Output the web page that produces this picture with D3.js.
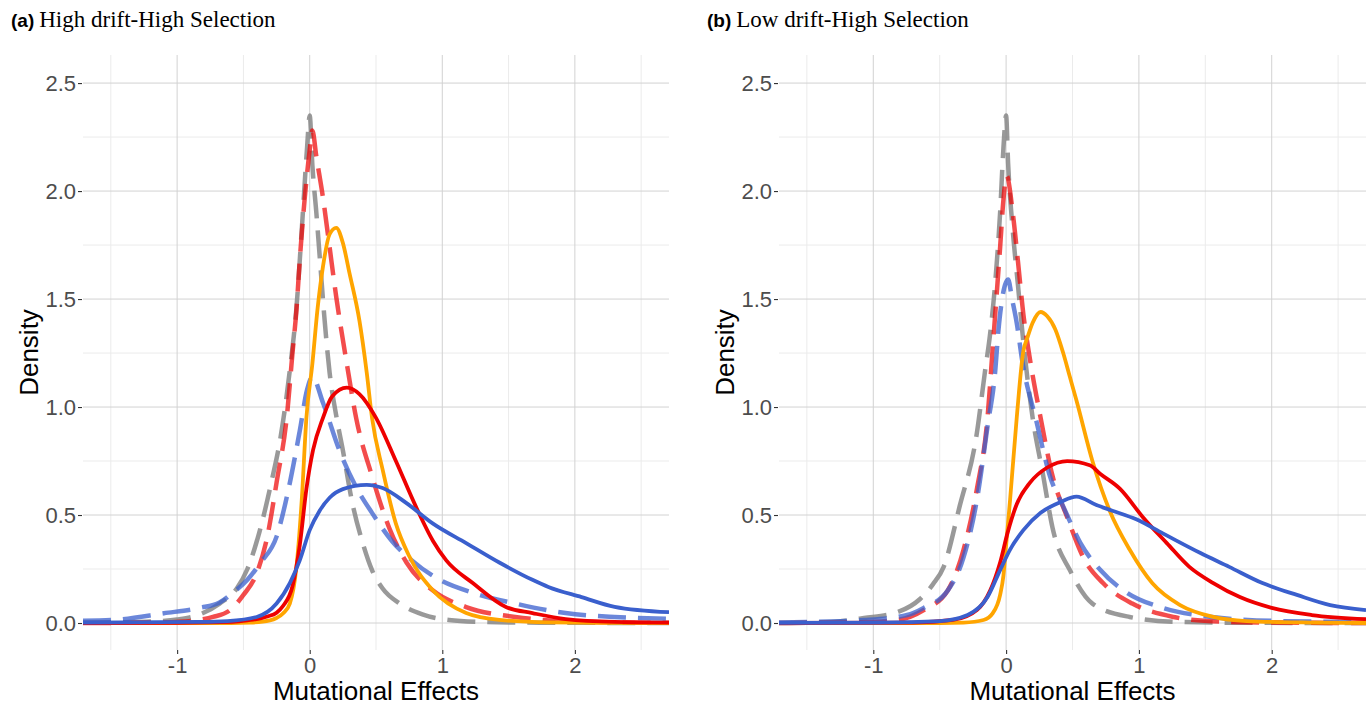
<!DOCTYPE html>
<html>
<head>
<meta charset="utf-8">
<script src="https://cdn.jsdelivr.net/npm/d3@7"></script>
<style>
  body { margin: 0; background: #fff; }
  .tick text { font-family: "Liberation Sans", Arial, sans-serif; font-size: 22px; fill: #4d4d4d; }
  .tick line { stroke: #333; stroke-width: 1.1; }
  .axisTitle { font-family: "Liberation Sans", Arial, sans-serif; font-size: 26px; fill: #000; }
</style>
</head>
<body>
<svg id="chart" width="1371" height="706"></svg>
<script>
//////////////////// DATA ////////////////////
const xTicks = [-1, 0, 1, 2];
const xMinor = [-1.5, -0.5, 0.5, 1.5, 2.5];
const yTicks = [0, 0.5, 1, 1.5, 2, 2.5];
const yMinor = [0.25, 0.75, 1.25, 1.75, 2.25];

const panelTitles = ["High drift-High Selection", "Low drift-High Selection"];
const panelTags = ["(a)", "(b)"];

// panel (a) — [effect, density]
const aGray = [[-1.71,0.002],[-1.4,0.004],[-1.2,0.007],[-1.0,0.016],[-0.85,0.035],[-0.68,0.09],[-0.55,0.16],[-0.47,0.25],[-0.38,0.42],[-0.29,0.65],[-0.22,0.86],[-0.15,1.17],[-0.1,1.46],[-0.06,1.82],[-0.02,2.2],[0,2.35],[0.02,2.12],[0.05,1.9],[0.08,1.66],[0.11,1.42],[0.15,1.16],[0.2,0.96],[0.25,0.8],[0.32,0.56],[0.4,0.37],[0.47,0.245],[0.55,0.16],[0.68,0.09],[0.85,0.04],[1.05,0.014],[1.3,0.005],[1.6,0.002],[2.0,0.001],[2.71,0]];
const aRedDash = [[-1.71,0],[-1.2,0.002],[-0.98,0.006],[-0.83,0.015],[-0.73,0.028],[-0.6,0.06],[-0.5,0.13],[-0.4,0.23],[-0.32,0.4],[-0.25,0.65],[-0.17,0.97],[-0.13,1.25],[-0.1,1.45],[-0.075,1.68],[-0.04,1.95],[0,2.19],[0.02,2.28],[0.05,2.16],[0.1,1.97],[0.15,1.74],[0.2,1.51],[0.28,1.2],[0.35,0.95],[0.47,0.68],[0.6,0.44],[0.73,0.28],[0.93,0.15],[1.18,0.074],[1.55,0.028],[1.93,0.008],[2.3,0.003],[2.71,0.001]];
const aBlueDash = [[-1.71,0.01],[-1.48,0.014],[-1.1,0.045],[-0.83,0.07],[-0.68,0.095],[-0.58,0.14],[-0.47,0.2],[-0.37,0.28],[-0.25,0.4],[-0.16,0.62],[-0.075,0.89],[-0.02,1.08],[0.02,1.14],[0.1,1.02],[0.23,0.79],[0.35,0.63],[0.47,0.51],[0.62,0.38],[0.77,0.29],[0.98,0.2],[1.23,0.14],[1.55,0.09],[1.93,0.046],[2.3,0.028],[2.71,0.02]];
const aOrange = [[-1.71,0],[-0.6,0],[-0.45,0.002],[-0.3,0.012],[-0.25,0.023],[-0.2,0.045],[-0.15,0.09],[-0.1,0.26],[-0.06,0.57],[-0.025,0.95],[0.02,1.2],[0.06,1.46],[0.1,1.65],[0.15,1.8],[0.2,1.83],[0.25,1.76],[0.3,1.62],[0.375,1.4],[0.43,1.16],[0.47,0.95],[0.55,0.71],[0.65,0.46],[0.75,0.31],[0.93,0.15],[1.18,0.046],[1.43,0.014],[1.8,0.003],[2.2,0.001],[2.71,0]];
const aRed = [[-1.71,0],[-1.0,0.001],[-0.58,0.005],[-0.47,0.012],[-0.32,0.03],[-0.25,0.048],[-0.2,0.08],[-0.13,0.17],[-0.075,0.36],[-0.025,0.62],[0.025,0.8],[0.1,0.95],[0.17,1.05],[0.28,1.09],[0.375,1.06],[0.5,0.95],[0.65,0.75],[0.8,0.54],[0.93,0.38],[1.03,0.29],[1.23,0.185],[1.48,0.074],[1.68,0.046],[1.93,0.018],[2.3,0.005],[2.71,0.002]];
const aBlue = [[-1.71,0.002],[-0.83,0.005],[-0.62,0.009],[-0.4,0.028],[-0.25,0.09],[-0.15,0.185],[-0.075,0.29],[0,0.43],[0.075,0.52],[0.15,0.58],[0.25,0.62],[0.43,0.64],[0.55,0.625],[0.73,0.555],[0.93,0.46],[1.18,0.37],[1.43,0.28],[1.68,0.2],[1.8,0.167],[2.05,0.12],[2.3,0.075],[2.71,0.05]];

// panel (b)
const bGray = [[-1.71,0],[-1.32,0.005],[-1.07,0.023],[-0.82,0.05],[-0.65,0.11],[-0.55,0.18],[-0.47,0.26],[-0.35,0.54],[-0.22,0.88],[-0.16,1.16],[-0.12,1.34],[-0.08,1.59],[-0.045,1.9],[-0.02,2.2],[0,2.35],[0.015,2.13],[0.05,1.82],[0.09,1.56],[0.13,1.3],[0.2,0.95],[0.28,0.68],[0.35,0.44],[0.48,0.245],[0.65,0.09],[0.93,0.028],[1.3,0.005],[1.8,0.001],[2.71,0]];
const bRedDash = [[-1.71,0],[-1.1,0.004],[-0.82,0.014],[-0.62,0.06],[-0.44,0.15],[-0.32,0.34],[-0.22,0.62],[-0.14,0.95],[-0.1,1.28],[-0.07,1.53],[-0.045,1.74],[-0.02,1.96],[0.005,2.07],[0.05,1.9],[0.09,1.67],[0.13,1.43],[0.18,1.22],[0.26,0.95],[0.35,0.68],[0.46,0.49],[0.58,0.305],[0.73,0.185],[0.95,0.09],[1.26,0.028],[1.55,0.008],[2.0,0.002],[2.71,0]];
const bBlueDash = [[-1.71,0.002],[-1.07,0.014],[-0.82,0.028],[-0.7,0.046],[-0.62,0.07],[-0.44,0.15],[-0.32,0.305],[-0.22,0.57],[-0.14,0.91],[-0.08,1.18],[-0.06,1.34],[-0.03,1.5],[0.015,1.59],[0.045,1.5],[0.08,1.39],[0.12,1.22],[0.23,0.93],[0.33,0.68],[0.43,0.54],[0.56,0.37],[0.71,0.245],[0.91,0.14],[1.18,0.07],[1.55,0.028],[2.06,0.009],[2.71,0.005]];
const bOrange = [[-1.71,0],[-0.5,0],[-0.32,0.002],[-0.17,0.014],[-0.1,0.046],[-0.045,0.13],[-0.02,0.22],[0,0.36],[0.03,0.57],[0.08,0.95],[0.13,1.26],[0.16,1.32],[0.2,1.39],[0.26,1.44],[0.31,1.42],[0.37,1.36],[0.43,1.25],[0.48,1.14],[0.53,1.03],[0.65,0.75],[0.78,0.52],[0.93,0.34],[1.1,0.185],[1.31,0.083],[1.56,0.028],[1.81,0.009],[2.3,0.002],[2.71,0]];
const bRed = [[-1.71,0],[-0.7,0.002],[-0.4,0.014],[-0.22,0.06],[-0.12,0.15],[-0.045,0.28],[0.01,0.415],[0.08,0.55],[0.18,0.65],[0.31,0.72],[0.46,0.75],[0.63,0.73],[0.71,0.69],[0.86,0.62],[1.03,0.49],[1.21,0.37],[1.38,0.26],[1.56,0.185],[1.76,0.12],[2.0,0.07],[2.3,0.037],[2.71,0.018]];
const bBlue = [[-1.71,0.001],[-0.95,0.002],[-0.5,0.009],[-0.29,0.037],[-0.14,0.12],[-0.045,0.245],[0.03,0.34],[0.13,0.43],[0.26,0.51],[0.41,0.56],[0.53,0.585],[0.68,0.546],[0.8,0.52],[0.98,0.48],[1.18,0.415],[1.46,0.325],[1.68,0.26],[1.93,0.185],[2.19,0.13],[2.44,0.083],[2.71,0.06]];

//////////////////// STYLES ////////////////////
const seriesStyle = [
    { key: "gray",     color: "#808080", width: 4.5, dash: "28,12", opacity: 0.8 },
    { key: "redDash",  color: "#EE0000", width: 4.5, dash: "28,12", opacity: 0.7 },
    { key: "blueDash", color: "#3A5FCD", width: 4.5, dash: "28,12", opacity: 0.75 },
    { key: "orange",   color: "#FFA500", width: 3.8, dash: null, opacity: 1 },
    { key: "red",      color: "#EE0000", width: 3.8, dash: null, opacity: 1 },
    { key: "blue",     color: "#3A5FCD", width: 3.8, dash: null, opacity: 1 }
];

const panels = [
    { left: 83,  right: 669,  series: [aGray, aRedDash, aBlueDash, aOrange, aRed, aBlue] },
    { left: 779, right: 1366, series: [bGray, bRedDash, bBlueDash, bOrange, bRed, bBlue] }
];
const plotTop = 55, plotBottom = 650;

// plain hyphen for negatives, like the original
const fmtX = d => String(d);
const fmtY = d => d.toFixed(1);

const svg = d3.select("#chart");

//////////////////// DRAW PANELS ////////////////////
panels.forEach((p, i) => {
    const x = d3.scaleLinear().domain([-1.71, 2.71]).range([p.left, p.right]);
    const y = d3.scaleLinear().domain([-0.125, 2.63]).range([plotBottom, plotTop]);
    const g = svg.append("g");

    // minor grid
    g.selectAll(".vminor").data(xMinor).enter().append("line")
        .attr("x1", d => x(d)).attr("x2", d => x(d))
        .attr("y1", plotTop).attr("y2", plotBottom)
        .attr("stroke", "#ebebeb").attr("stroke-width", 1);
    g.selectAll(".hminor").data(yMinor).enter().append("line")
        .attr("x1", p.left).attr("x2", p.right)
        .attr("y1", d => y(d)).attr("y2", d => y(d))
        .attr("stroke", "#ebebeb").attr("stroke-width", 1);

    // major grid
    g.selectAll(".vmajor").data(xTicks).enter().append("line")
        .attr("x1", d => x(d)).attr("x2", d => x(d))
        .attr("y1", plotTop).attr("y2", plotBottom)
        .attr("stroke", "#d2d2d2").attr("stroke-width", 1);
    g.selectAll(".hmajor").data(yTicks).enter().append("line")
        .attr("x1", p.left).attr("x2", p.right)
        .attr("y1", d => y(d)).attr("y2", d => y(d))
        .attr("stroke", "#d2d2d2").attr("stroke-width", 1);

    // axes
    g.append("g")
        .attr("transform", `translate(0, ${plotBottom})`)
        .call(d3.axisBottom(x).tickValues(xTicks).tickSize(4).tickPadding(3).tickFormat(fmtX))
        .call(a => a.select(".domain").remove());
    g.append("g")
        .attr("transform", `translate(${p.left - 1}, 0)`)
        .call(d3.axisLeft(y).tickValues(yTicks).tickSize(4).tickPadding(2).tickFormat(fmtY))
        .call(a => a.select(".domain").remove());

    // clip
    const clipId = "clip" + i;
    svg.append("clipPath").attr("id", clipId).append("rect")
        .attr("x", p.left).attr("y", plotTop)
        .attr("width", p.right - p.left).attr("height", plotBottom - plotTop);

    const line = d3.line()
        .x(d => x(d[0]))
        .y(d => y(d[1]))
        .curve(d3.curveMonotoneX);

    const lines = g.append("g").attr("clip-path", `url(#${clipId})`);
    p.series.forEach((s, k) => {
        const st = seriesStyle[k];
        lines.append("path")
            .attr("d", line(s))
            .attr("fill", "none")
            .attr("stroke", st.color)
            .attr("stroke-width", st.width)
            .attr("stroke-opacity", st.opacity)
            .attr("stroke-dasharray", st.dash)
            .attr("stroke-linejoin", "round");
    });

    // axis titles
    g.append("text")
        .attr("class", "axisTitle")
        .attr("text-anchor", "middle")
        .attr("x", (p.left + p.right) / 2)
        .attr("y", 700)
        .text("Mutational Effects");
    const yx = p.left - 45, yy = (plotTop + plotBottom) / 2;
    g.append("text")
        .attr("class", "axisTitle")
        .attr("text-anchor", "middle")
        .attr("transform", `rotate(-90, ${yx}, ${yy})`)
        .attr("x", yx)
        .attr("y", yy)
        .text("Density");

    // panel title
    const title = svg.append("text")
        .attr("x", i === 0 ? 11 : 707)
        .attr("y", 27);
    title.append("tspan")
        .attr("font-family", "'Liberation Sans', Arial, sans-serif")
        .attr("font-weight", "bold")
        .attr("font-size", 19)
        .text(panelTags[i]);
    title.append("tspan")
        .attr("font-family", "'Liberation Serif', 'Times New Roman', serif")
        .attr("font-size", 23)
        .attr("dx", 5)
        .text(panelTitles[i]);
});
</script>
</body>
</html>
